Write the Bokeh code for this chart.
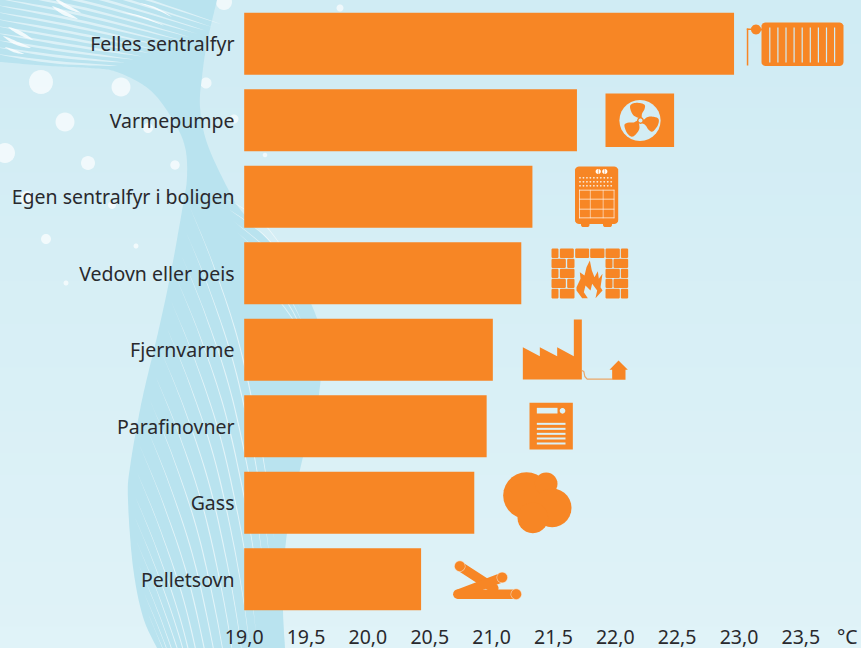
import base64

import numpy as np
from bokeh.embed import file_html
from bokeh.models import FactorRange, FixedTicker, Range1d
from bokeh.plotting import figure
from bokeh.resources import INLINE

categories = ["Felles sentralfyr", "Varmepumpe", "Egen sentralfyr i boligen", "Vedovn eller peis",
              "Fjernvarme", "Parafinovner", "Gass", "Pelletsovn"]
values = [22.96, 21.69, 21.33, 21.24, 21.01, 20.96, 20.86, 20.43]
tick_values = [19.0, 19.5, 20.0, 20.5, 21.0, 21.5, 22.0, 22.5, 23.0, 23.5]
tick_labels = ["19,0", "19,5", "20,0", "20,5", "21,0", "21,5", "22,0", "22,5", "23,0", "23,5"]
unit = "°C"
unit_tick = 23.875
baseline = 19.0

ORANGE = "#f78625"
TEXT = "#29292d"
FONT = "Noto Sans"

W, H = 861, 648
PXU = 123.7   # pixels per degree
PXC = 76.5    # pixels per category
X0 = 243.7    # pixel of 19,0
x_start = 19 - (X0 - 243) / PXU
p = figure(width=W, height=H, frame_width=618, frame_height=612,
           min_border_left=243, min_border_right=0, min_border_top=5, min_border_bottom=31,
           x_range=Range1d(x_start, x_start + 618 / PXU), y_range=FactorRange(factors=categories[::-1]),
           toolbar_location=None, output_backend="svg")
p.border_fill_color = None
p.background_fill_color = None
p.outline_line_color = None
p.grid.visible = False


def dx(x):
    return 19 + (np.asarray(x, float) - X0) / PXU


def dy(y):
    return (617 - np.asarray(y, float)) / PXC


# ---------- background decoration: an SVG picture behind the figure ----------
bg = []


def under(xs, ys, color, alpha=1.0):
    d = " ".join(f"{float(a):.1f},{float(b):.1f}" for a, b in zip(xs, ys))
    bg.append(f'<polygon points="{d}" fill="{color}" fill-opacity="{alpha}"/>')


def ring(cx, cy, r, n=28):
    t = np.linspace(0, 2 * np.pi, n, endpoint=False)
    return cx + r * np.cos(t), cy + r * np.sin(t)


def smooth(pts, n=16):
    """Catmull-Rom through the given points."""
    P = np.array(pts, float)
    P = np.vstack([P[0], P, P[-1]])
    out = []
    for i in range(1, len(P) - 2):
        for t in np.linspace(0, 1, n, endpoint=False):
            a, b, c, d = P[i - 1], P[i], P[i + 1], P[i + 2]
            out.append(0.5 * (2 * b + (c - a) * t + (2 * a - 5 * b + 4 * c - d) * t ** 2 + (3 * b - a - 3 * c + d) * t ** 3))
    out.append(P[-2])
    return np.array(out)


top_c, bot_c = np.array([0xd0, 0xec, 0xf4]), np.array([0xe0, 0xf3, 0xf8])
for i in range(30):
    y0, y1 = i * H / 30, (i + 1) * H / 30 + 1
    c = top_c + (bot_c - top_c) * i / 29
    under([0, W, W, 0], [y0, y0, y1, y1], "#%02x%02x%02x" % tuple(int(v) for v in c))

# circles that lie behind the wave
for cx, cy, r in [(206, 83, 5.5), (234, 119, 4.5), (224, 2, 8), (340, 8, 3.5)]:
    under(*ring(cx, cy, r), "#ffffff", 0.65)

left_edge = smooth([(0, 62), (50, 66), (90, 68), (117, 72), (150, 90), (173, 120), (185, 147), (187, 177), (183, 205),
                    (170, 277), (157, 337), (142, 400), (130, 467), (128, 500), (133, 567), (143, 617), (157, 648)])
right_edge = smooth([(217, 0), (207, 43), (202, 77), (200, 107), (207, 143), (227, 187), (243, 213), (287, 262),
                     (315, 313), (322, 350), (317, 407), (303, 457), (287, 533), (283, 600), (285, 648)])
band = np.vstack([[(0, 0)], left_edge, right_edge[::-1]])
under(band[:, 0], band[:, 1], "#b9e3ef")


def streak(pts, w, color="#ffffff", alpha=0.6):
    c = smooth(pts, 10)
    d = np.gradient(c, axis=0)
    nrm = np.c_[-d[:, 1], d[:, 0]] / np.maximum(np.hypot(d[:, 0], d[:, 1])[:, None], 1e-6)
    th = w * np.sin(np.linspace(0, np.pi, len(c)))[:, None] / 2
    poly = np.vstack([c + nrm * th, (c - nrm * th)[::-1]])
    under(poly[:, 0], poly[:, 1], color, alpha)


# fan of arcs at the top left
for k in range(14):
    y0 = 54 - k * 7
    x1 = 118 + k * 8
    y1 = 66 - k * 3.2
    streak([(-4, y0), (x1 * 0.45, y0 + 8 + k * 1.1), (x1, y1)], 2.6, alpha=0.5)
for a, b, c, w in [((3, 36), (16, 43), (31, 48), 3.5), ((8, 27), (20, 33), (33, 40), 3.8), ((52, 6), (64, 13), (78, 19), 3.8),
                   ((54, -2), (66, 6), (81, 13), 3.5), ((5, 47), (14, 51), (24, 54), 2.5), ((140, 3), (155, 8), (172, 17), 1.6),
                   ((122, 12), (142, 17), (165, 26), 1.3)]:
    streak([a, b, c], w, alpha=0.8)

# fan of thin lines in the lower part of the wave
for k in range(18):
    y0 = 205 + k * 24
    x0 = np.interp(y0, left_edge[:, 1], left_edge[:, 0]) + 6
    pts = [(x0, y0), (x0 + 42, y0 + 110), (x0 + 72, y0 + 240), (x0 + 86, y0 + 340)]
    c = smooth(pts, 12)
    limit = np.interp(c[:, 1], right_edge[:, 1], right_edge[:, 0]) - 3
    c = c[c[:, 0] < limit]
    if len(c) > 4:
        q = c[::max(1, len(c) // 5)]
        streak([tuple(v) for v in q], 1.1, alpha=0.6)
for k in range(7):
    streak([(222 + k * 5, 196 + k * 12), (262 + k * 5, 222 + k * 16), (292 + k * 3, 262 + k * 16)], 1.0, alpha=0.55)

# snow-like circles in front of the wave
for cx, cy, r in [(41, 82, 12), (121, 87, 9.5), (65, 122, 9.5), (5, 153, 10), (88, 163, 7), (175, 165, 4.7),
                  (148, 128, 5), (265, 155, 2.3), (27, 198, 7), (112, 205, 4), (46, 239, 5), (136, 246, 2.5),
                  (66, 283, 2.5)]:
    under(*ring(cx, cy, r), "#ffffff", 0.68)

svg = f'<svg xmlns="http://www.w3.org/2000/svg" width="{W}" height="{H}" viewBox="0 0 {W} {H}">' + "".join(bg) + "</svg>"
p.styles = {"background-image": "url(data:image/svg+xml;base64," + base64.b64encode(svg.encode()).decode() + ")",
            "background-repeat": "no-repeat", "background-size": f"{W}px {H}px"}

# ---------- the chart itself ----------
p.hbar(y=categories, left=baseline, right=values, height=62 / PXC, color=ORANGE, line_color=None)

p.yaxis.axis_line_color = None
p.yaxis.major_tick_line_color = None
p.yaxis.minor_tick_line_color = None
p.yaxis.major_label_standoff = 3
p.yaxis.major_label_text_font = FONT
p.yaxis.major_label_text_font_size = "19.5px"
p.yaxis.major_label_text_color = TEXT

p.xaxis.ticker = FixedTicker(ticks=tick_values + [unit_tick])
overrides = dict(zip(tick_values, tick_labels))
overrides[unit_tick] = unit
p.xaxis.major_label_overrides = overrides
p.xaxis.axis_line_color = None
p.xaxis.major_tick_line_color = None
p.xaxis.minor_tick_line_color = None
p.xaxis.major_label_standoff = -1
p.xaxis.major_label_text_font = FONT
p.xaxis.major_label_text_font_size = "19.5px"
p.xaxis.major_label_text_color = TEXT


# ---------- icons, in pixels ----------
def shape(pts, color=ORANGE):
    a = np.array(pts, float)
    p.patch(dx(a[:, 0]), dy(a[:, 1]), color=color, line_color=None)


def disc(cx, cy, r, color=ORANGE):
    x, y = ring(cx, cy, r)
    shape(np.c_[x, y], color)


def rect(x0, y0, x1, y1, color=ORANGE):
    shape([(x0, y0), (x1, y0), (x1, y1), (x0, y1)], color)


def rrect(x0, y0, x1, y1, r, color=ORANGE):
    pts = []
    for cx, cy, a0 in [(x1 - r, y0 + r, -90), (x1 - r, y1 - r, 0), (x0 + r, y1 - r, 90), (x0 + r, y0 + r, 180)]:
        for a in np.radians(np.linspace(a0, a0 + 90, 6)):
            pts.append((cx + r * np.cos(a), cy + r * np.sin(a)))
    shape(pts, color)


def stroke(pts, color, width, cap="butt"):
    a = np.array(pts, float)
    p.line(dx(a[:, 0]), dy(a[:, 1]), line_color=color, line_width=width, line_cap=cap)


# bg colours sampled per row
BG1, BG2, BG6 = "#d1ecf4", "#d3edf4", "#dbf1f6"

# radiator
rrect(761, 22, 843, 65.5, 4)
for sx in [769.3, 777.4, 785.5, 793.6, 801.7, 809.8, 817.9, 826, 834.1]:
    rect(sx - 0.6, 27, sx + 0.6, 62, BG1)
rect(746.3, 28, 747.8, 65)
rect(746.3, 28, 752, 29.5)
disc(755.5, 29, 5)
rect(758, 28, 762, 30)

# fan
rect(605, 93, 673.6, 146.5)
disc(639.5, 120, 20.6, BG2)
blade = smooth([(0, -2), (-6.7, -5), (-10, -11.7), (-9.3, -16), (-3.3, -17.7), (4, -16), (4.3, -11.7), (1.7, -6.7), (1.5, -2)], 8)
for ang in [0, 118, 240]:
    a = np.radians(ang)
    rot = np.array([[np.cos(a), -np.sin(a)], [np.sin(a), np.cos(a)]])
    shape(blade @ rot.T + (639.8, 120))
disc(640, 120, 3.4)
disc(640, 120, 2.0, BG2)

# boiler
rrect(574.5, 166, 617.7, 223.5, 4)
rrect(580.5, 221, 589, 226.5, 2)
rrect(602.5, 221, 611.5, 226.5, 2)
disc(597.7, 171, 2.6, "#ffffff")
disc(604.3, 171, 2.6, "#ffffff")
rect(597.4, 168, 598, 174)
rect(604, 168, 604.6, 174)
for yy in [177.3, 181.3, 185.3]:
    for xx in np.linspace(579.5, 610.7, 10):
        disc(xx, yy, 0.9, "#f9e6d2")
for x0, x1 in [(578.5, 579.2), (613.2, 613.9), (589.4, 590), (602.3, 602.9)]:
    rect(x0, 189.2, x1, 217.8, "#fdf1e5")
for y0 in [189.2, 198.3, 208.3, 217.1]:
    rect(578.5, y0, 613.9, y0 + 0.7, "#fdf1e5")

# fireplace
rows = [(248, 257.5, [(153, 174), (178, 220), (224, 266), (269, 312), (315, 358), (361, 383)]),
        (258.2, 267.5, [(153, 196), (200, 222), (315, 336), (339, 383)]),
        (268.2, 277.5, [(153, 174), (178, 222), (315, 358), (361, 383)]),
        (278.2, 287.5, [(153, 196), (200, 222), (315, 336), (339, 383)]),
        (288.2, 298, [(153, 174), (178, 222), (315, 358), (361, 383)])]
for y0, y1, bricks in rows:
    for a, b in bricks:
        rrect(500 + a / 3, y0, 500 + b / 3, y1, 1.2)
flame = [(228, 860), (240, 835), (238, 815), (252, 825), (258, 800), (268, 780), (274, 810), (282, 830), (292, 812),
         (295, 835), (306, 820), (300, 860), (306, 870), (285, 893), (290, 870), (275, 850), (270, 870), (255, 855),
         (250, 875), (262, 893), (245, 893), (228, 870)]
shape([(500 + a / 3, b / 3) for a, b in flame])


def z3(pts):
    return [(430 + a / 3, 310 + b / 3) for a, b in pts]


# district heating
shape(z3([(277, 207), (277, 110), (328, 137), (328, 110), (380, 137), (380, 110), (430, 137), (430, 27), (454, 27), (454, 207)]))
stroke(z3([(454, 180), (460, 183), (463, 198), (470, 206), (545, 206)]), "#eba667", 1.2)
shape(z3([(537, 178), (564, 150), (592, 178), (585, 178), (585, 208), (545, 208), (545, 178)]))

# paraffin stove
shape(z3([(297, 277), (427, 277), (427, 417), (297, 417)]))
shape(z3([(319, 292), (381, 292), (381, 309), (319, 309)]), BG6)
x_, y_ = z3([(396, 301)])[0]
disc(x_, y_, 2.8, BG6)
for yy in [340, 355, 370, 384, 399]:
    shape(z3([(319, yy - 3), (405, yy - 3), (405, yy + 3), (319, yy + 3)]), BG6)

# gas cloud
for a, b, r in [(288, 555, 70), (347, 520, 34), (365, 592, 58), (307, 622, 46)]:
    x_, y_ = z3([(a, b)])[0]
    disc(x_, y_, r / 3)

# pellets
for seg in [[(88, 767), (190, 833)], [(215, 801), (85, 850)], [(257, 851), (82, 851)]]:
    stroke(z3(seg), ORANGE, 9.5, "round")
for a, b in [(88, 767), (215, 801), (257, 851)]:
    x_, y_ = z3([(a, b)])[0]
    disc(x_, y_, 5.6, "#f3d3b5")
    disc(x_, y_, 5, ORANGE)

open("out.html", "w").write(file_html(p, INLINE))
